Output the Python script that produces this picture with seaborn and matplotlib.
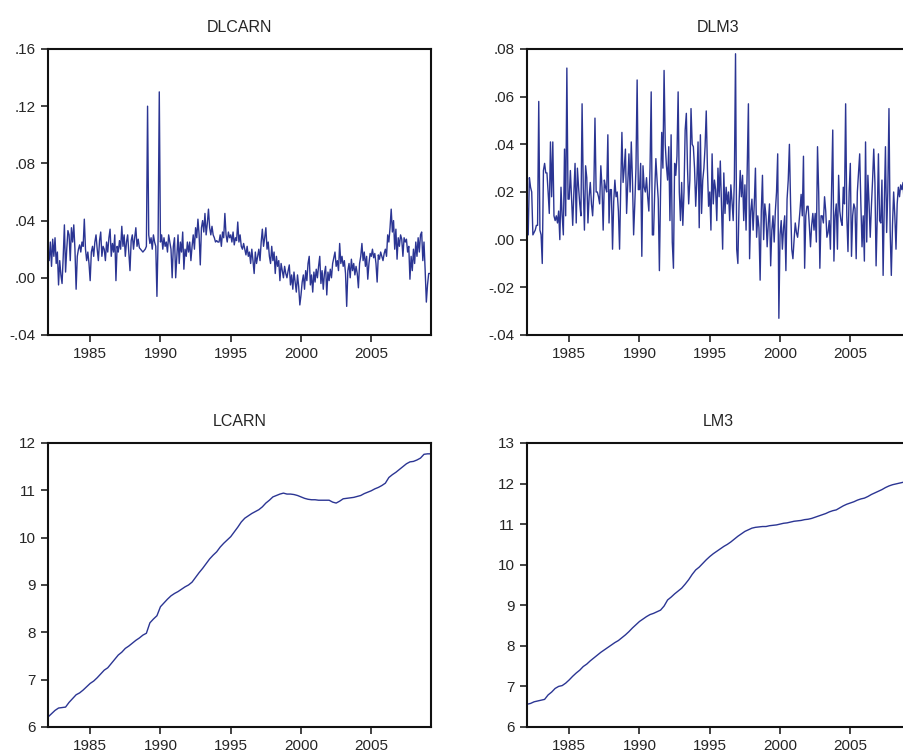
import matplotlib
matplotlib.use("Agg")
import matplotlib.pyplot as plt
from matplotlib.ticker import FuncFormatter, MultipleLocator
import numpy as np
import pandas as pd
import seaborn as sns

# monthly growth rates, 1982M1 .. 2009M3 (one row per year)
dlcarn = [
    0.020, 0.012, 0.025, 0.008, 0.027, 0.015, 0.028, 0.010, 0.018, -0.005, 0.012, 0.002,
    -0.004, 0.015, 0.037, 0.004, 0.020, 0.033, 0.030, 0.012, 0.035, 0.025, 0.037, 0.020,
    -0.008, 0.015, 0.020, 0.023, 0.018, 0.025, 0.022, 0.041, 0.020, 0.012, 0.018, 0.010,
    -0.002, 0.018, 0.022, 0.015, 0.025, 0.030, 0.020, 0.012, 0.026, 0.032, 0.015, 0.022,
    0.020, 0.012, 0.025, 0.018, 0.028, 0.034, 0.015, 0.024, 0.018, 0.030, -0.002, 0.022,
    0.018, 0.026, 0.020, 0.036, 0.022, 0.030, 0.015, 0.025, 0.030, 0.018, 0.005, 0.026,
    0.030, 0.020, 0.028, 0.035, 0.022, 0.027, 0.021, 0.020, 0.019, 0.018, 0.019, 0.020,
    0.022, 0.120, 0.030, 0.024, 0.028, 0.020, 0.030, 0.025, 0.022, -0.013, 0.028, 0.130,
    0.025, 0.030, 0.020, 0.028, 0.022, 0.025, 0.018, 0.030, 0.025, 0.020, 0.000, 0.022,
    0.028, 0.000, 0.015, 0.030, 0.010, 0.025, 0.018, 0.032, 0.006, 0.020, 0.015, 0.025,
    0.018, 0.025, 0.012, 0.022, 0.030, 0.020, 0.035, 0.028, 0.041, 0.030, 0.009, 0.035,
    0.040, 0.032, 0.045, 0.030, 0.038, 0.048, 0.035, 0.030, 0.036, 0.030, 0.028, 0.025,
    0.026, 0.025, 0.025, 0.030, 0.022, 0.032, 0.028, 0.045, 0.030, 0.025, 0.032, 0.028,
    0.030, 0.025, 0.032, 0.023, 0.028, 0.026, 0.039, 0.025, 0.030, 0.022, 0.020, 0.024,
    0.020, 0.016, 0.022, 0.015, 0.018, 0.010, 0.020, 0.012, 0.003, 0.018, 0.010, 0.015,
    0.020, 0.012, 0.025, 0.034, 0.022, 0.028, 0.035, 0.020, 0.025, 0.015, 0.010, 0.022,
    0.012, 0.018, 0.003, 0.015, 0.008, 0.012, -0.002, 0.010, 0.005, 0.000, 0.008, 0.003,
    0.000, 0.005, 0.009, -0.005, 0.002, -0.008, 0.004, -0.003, -0.010, 0.002, -0.006, -0.019,
    -0.012, -0.003, 0.002, -0.008, 0.005, -0.002, 0.010, 0.015, -0.005, 0.002, -0.010, 0.004,
    -0.003, 0.006, 0.000, 0.008, 0.015, -0.004, 0.005, -0.008, 0.003, 0.008, -0.012, 0.004,
    -0.002, 0.006, 0.000, 0.010, 0.014, 0.018, 0.008, 0.012, 0.005, 0.024, 0.010, 0.015,
    0.008, 0.012, 0.003, -0.020, 0.005, 0.010, 0.000, 0.013, 0.005, 0.010, 0.002, 0.008,
    0.003, -0.007, 0.010, 0.015, 0.024, 0.012, 0.018, 0.008, 0.015, -0.001, 0.010, 0.017,
    0.015, 0.020, 0.014, 0.017, 0.010, -0.003, 0.016, 0.013, 0.018, 0.015, 0.012, 0.017,
    0.020, 0.015, 0.030, 0.025, 0.035, 0.048, 0.032, 0.040, 0.020, 0.034, 0.013, 0.028,
    0.022, 0.030, 0.027, 0.015, 0.028, 0.025, 0.027, 0.018, 0.022, -0.001, 0.015, 0.005,
    0.020, 0.010, 0.025, 0.015, 0.028, 0.018, 0.030, 0.032, 0.012, 0.025, 0.005, -0.017,
    -0.005, 0.003, 0.003,
]

dlm3 = [
    0.017, 0.002, 0.026, 0.022, 0.020, 0.002, 0.003, 0.004, 0.006, 0.006, 0.058, 0.004,
    0.002, -0.010, 0.029, 0.032, 0.028, 0.028, 0.020, 0.011, 0.041, 0.018, 0.041, 0.010,
    0.008, 0.010, 0.007, 0.012, 0.000, 0.022, 0.010, 0.002, 0.038, 0.010, 0.072, 0.017,
    0.017, 0.029, 0.018, 0.006, 0.020, 0.032, 0.007, 0.030, 0.022, 0.015, 0.010, 0.057,
    0.022, 0.004, 0.031, 0.026, 0.007, 0.018, 0.024, 0.015, 0.010, 0.020, 0.051, 0.020,
    0.020, 0.018, 0.015, 0.031, 0.022, 0.004, 0.025, 0.022, 0.020, 0.044, 0.007, 0.021,
    0.021, -0.004, 0.016, 0.025, 0.018, 0.020, 0.012, -0.004, 0.022, 0.045, 0.024, 0.030,
    0.038, 0.011, 0.024, 0.036, 0.020, 0.041, 0.025, 0.002, 0.015, 0.030, 0.067, 0.021,
    0.021, 0.032, -0.007, 0.031, 0.022, 0.020, 0.026, 0.018, 0.012, 0.030, 0.062, 0.002,
    0.002, 0.020, 0.034, 0.025, 0.017, -0.013, 0.020, 0.045, 0.030, 0.071, 0.040, 0.031,
    0.025, 0.039, 0.008, 0.044, -0.001, -0.012, 0.032, 0.027, 0.035, 0.062, 0.020, 0.008,
    0.024, 0.006, 0.020, 0.046, 0.053, 0.030, 0.015, 0.025, 0.055, 0.040, 0.039, 0.030,
    0.014, 0.025, 0.041, 0.005, 0.044, 0.011, 0.025, 0.030, 0.039, 0.054, 0.030, 0.014,
    0.020, 0.004, 0.036, 0.015, 0.025, 0.021, 0.008, 0.030, 0.018, 0.033, 0.015, -0.004,
    0.028, 0.011, 0.022, 0.015, 0.020, 0.008, 0.023, 0.016, 0.008, 0.025, 0.078, -0.004,
    -0.010, 0.015, 0.029, 0.018, 0.027, 0.008, 0.023, 0.004, 0.030, 0.057, -0.008, 0.012,
    0.017, 0.004, 0.015, 0.030, 0.001, 0.010, 0.005, -0.017, 0.012, 0.027, 0.000, 0.015,
    0.010, -0.003, 0.007, 0.015, -0.011, 0.004, 0.010, -0.001, 0.012, 0.020, 0.036, -0.033,
    0.002, 0.008, -0.004, 0.005, 0.010, -0.013, 0.017, 0.025, 0.040, 0.015, -0.004, -0.008,
    0.000, 0.007, 0.003, 0.001, 0.006, 0.012, 0.019, 0.010, 0.035, -0.012, 0.010, 0.014,
    0.014, 0.006, -0.003, 0.006, 0.011, 0.004, 0.011, -0.001, 0.039, 0.020, -0.012, 0.010,
    0.010, 0.007, 0.018, 0.012, 0.001, 0.003, 0.008, -0.004, 0.020, 0.046, -0.009, 0.010,
    0.015, -0.004, 0.027, 0.012, 0.008, 0.006, 0.022, 0.015, 0.057, 0.010, -0.005, 0.020,
    0.032, -0.007, 0.010, 0.015, 0.013, -0.008, 0.020, 0.028, 0.036, 0.015, -0.003, 0.010,
    -0.009, 0.041, -0.001, 0.027, 0.015, 0.001, 0.014, 0.025, 0.038, 0.024, -0.011, 0.010,
    0.036, 0.008, 0.007, 0.025, -0.015, 0.015, 0.039, 0.003, 0.020, 0.055, 0.004, -0.015,
    0.006, 0.020, 0.010, -0.004, 0.015, 0.022, 0.018, 0.023, 0.021, 0.024, 0.015, 0.020,
    0.018, 0.022, 0.015,
]

# quarterly levels, 1982Q1 .. 2009Q2
lcarn = [
    6.21, 6.28, 6.35, 6.40, 6.41, 6.42, 6.52, 6.60, 6.68, 6.72, 6.78, 6.85,
    6.92, 6.97, 7.04, 7.12, 7.20, 7.25, 7.34, 7.43, 7.52, 7.58, 7.66, 7.71,
    7.77, 7.83, 7.88, 7.94, 7.98, 8.20, 8.28, 8.35, 8.54, 8.62, 8.70, 8.77,
    8.82, 8.86, 8.91, 8.96, 9.00, 9.06, 9.16, 9.26, 9.35, 9.45, 9.55, 9.63,
    9.70, 9.80, 9.88, 9.95, 10.02, 10.12, 10.22, 10.33, 10.41, 10.46, 10.51, 10.55,
    10.59, 10.65, 10.73, 10.79, 10.86, 10.89, 10.92, 10.94, 10.92, 10.92, 10.91, 10.89,
    10.86, 10.83, 10.81, 10.80, 10.80, 10.79, 10.79, 10.79, 10.79, 10.75, 10.73, 10.77,
    10.82, 10.83, 10.84, 10.85, 10.87, 10.89, 10.93, 10.96, 10.99, 11.03, 11.06, 11.10,
    11.15, 11.27, 11.33, 11.38, 11.44, 11.50, 11.56, 11.60, 11.61, 11.64, 11.68, 11.76,
    11.77, 11.77,
]

lm3 = [
    6.56, 6.58, 6.62, 6.64, 6.66, 6.68, 6.79, 6.86, 6.95, 7.00, 7.02, 7.08,
    7.16, 7.25, 7.33, 7.40, 7.49, 7.55, 7.63, 7.70, 7.77, 7.84, 7.90, 7.96,
    8.02, 8.08, 8.13, 8.20, 8.27, 8.35, 8.44, 8.52, 8.60, 8.66, 8.72, 8.77,
    8.80, 8.84, 8.88, 8.98, 9.13, 9.20, 9.28, 9.35, 9.42, 9.52, 9.63, 9.76,
    9.87, 9.94, 10.03, 10.12, 10.20, 10.27, 10.33, 10.39, 10.45, 10.50, 10.56, 10.63,
    10.70, 10.76, 10.82, 10.86, 10.90, 10.92, 10.93, 10.94, 10.94, 10.96, 10.97, 10.98,
    11.00, 11.02, 11.03, 11.05, 11.07, 11.08, 11.09, 11.11, 11.12, 11.14, 11.17, 11.20,
    11.23, 11.26, 11.30, 11.33, 11.35, 11.40, 11.45, 11.49, 11.52, 11.55, 11.59, 11.62,
    11.64, 11.68, 11.73, 11.77, 11.81, 11.85, 11.90, 11.94, 11.97, 11.99, 12.01, 12.03,
    12.05, 12.07,
]

year_ticks = [1985, 1990, 1995, 2000, 2005]

monthly = pd.DataFrame({"t": 1982 + np.arange(len(dlcarn)) / 12,
                        "DLCARN": dlcarn, "DLM3": dlm3})
quarterly = pd.DataFrame({"t": 1982 + np.arange(len(lcarn)) / 4,
                          "LCARN": lcarn, "LM3": lm3})

sns.set_theme(style="ticks")
plt.rcParams["font.family"] = ["Liberation Sans", "DejaVu Sans"]
plt.rcParams["axes.linewidth"] = 1.5

line_color = "#2b3593"


def dot_fmt(v, pos):
    s = f"{v:.2f}"
    s = s.replace("0.", ".", 1)
    if s in ("-.00", ".00"):
        s = ".00"
    return s


fig = plt.figure(figsize=(9.04, 7.56), dpi=100)
w = 0.4237
panels = [
    ("DLCARN", monthly, [0.0531, 0.5569, w, 0.3783], (-0.04, 0.16), 0.04, True),
    ("DLM3", monthly, [0.5830, 0.5569, w, 0.3783], (-0.04, 0.08), 0.02, True),
    ("LCARN", quarterly, [0.0531, 0.0384, w, 0.3757], (6, 12), 1, False),
    ("LM3", quarterly, [0.5830, 0.0384, w, 0.3757], (6, 13), 1, False),
]

for name, df, rect, ylim, step, dotted in panels:
    ax = fig.add_axes(rect)
    sns.lineplot(data=df, x="t", y=name, ax=ax, color=line_color, linewidth=1.0)
    ax.set_xlim(1982, 2009.25)
    ax.set_ylim(*ylim)
    ax.set_xticks(year_ticks)
    ax.yaxis.set_major_locator(MultipleLocator(step))
    if dotted:
        ax.yaxis.set_major_formatter(FuncFormatter(dot_fmt))
    else:
        ax.yaxis.set_major_formatter(FuncFormatter(lambda v, p: f"{v:.0f}"))
    ax.set_xlabel("")
    ax.set_ylabel("")
    ax.set_title(name, fontsize=11.5, pad=12)
    ax.tick_params(axis="both", labelsize=11, length=5, width=1.2, color="#222222",
                   direction="out", top=False, right=False, pad=4)
    for side in ["top", "right", "left", "bottom"]:
        ax.spines[side].set_visible(True)
        ax.spines[side].set_color("#111111")

fig.savefig("out.png", dpi=100)
